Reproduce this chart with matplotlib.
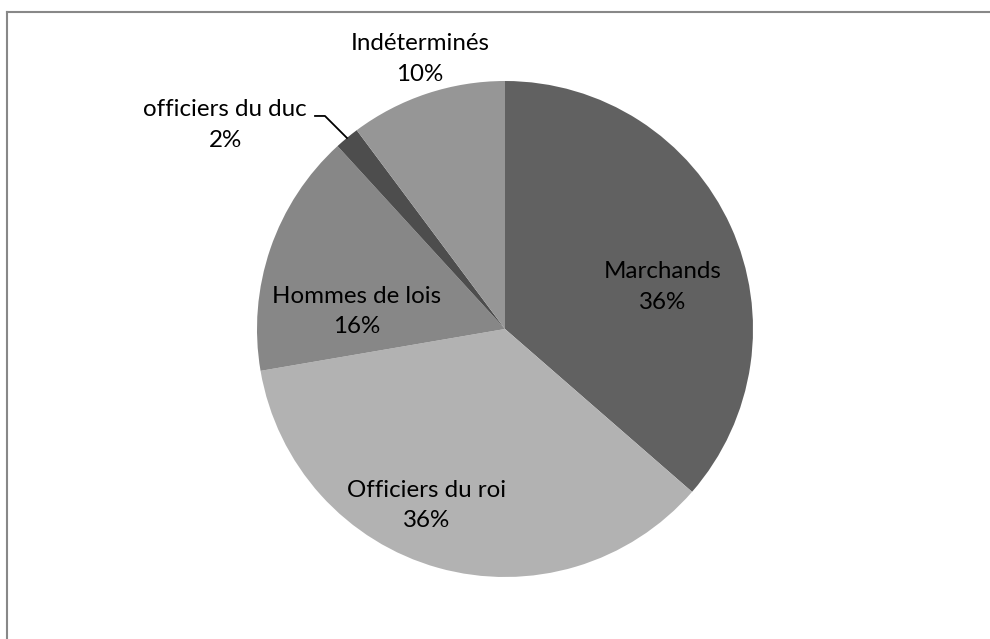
import numpy as np
import matplotlib.pyplot as plt
from matplotlib.lines import Line2D

# parts (share of total, %), clockwise from 12 o'clock
categories = ['Marchands', 'Officiers du roi', 'Hommes de lois', 'officiers du duc', 'Indéterminés']
values = [36.4, 35.9, 15.9, 1.6, 10.2]
colors = ['#616161', '#b2b2b2', '#878787', '#4d4d4d', '#969696']

# label centres, in pie units (radius = 1)
label_pos = [(0.637, 0.169), (-0.315, -0.712), (-0.597, 0.071), (-1.129, 0.823), (-0.343, 1.089)]

plt.rcParams['font.family'] = ['Lato', 'DejaVu Sans']

W, H = 990, 639
fig = plt.figure(figsize=(W / 100, H / 100), dpi=100)

# pie: centre (505, 329) px, radius 248 px
cx, cy, r = 505, 329, 248
ax = fig.add_axes([(cx - r) / W, (H - cy - r) / H, 2 * r / W, 2 * r / H])
wedges, _ = ax.pie(values, colors=colors, startangle=90, counterclock=False,
                   radius=1, wedgeprops=dict(linewidth=0))
ax.set_xlim(-1, 1)
ax.set_ylim(-1, 1)
ax.set_aspect('equal')
ax.axis('off')

for cat, val, (lx, ly) in zip(categories, values, label_pos):
    ax.text(lx, ly, f"{cat}\n{round(val):d}%", ha='center', va='center',
            fontsize=17.4, color='black', linespacing=1.55, clip_on=False)

# leader line for the small slice
w = wedges[3]
mid = np.deg2rad((w.theta1 + w.theta2) / 2)
ex, ey = np.cos(mid), np.sin(mid)
ax.plot([-0.766, -0.726, ex], [0.859, 0.859, ey], color='black', lw=1.3, clip_on=False)

# chart frame (top and left edges visible)
fig.add_artist(Line2D([7 / W, 1], [1 - 12 / H, 1 - 12 / H], color='#888888', lw=1.5,
                      transform=fig.transFigure))
fig.add_artist(Line2D([7 / W, 7 / W], [0, 1 - 12 / H], color='#888888', lw=1.5,
                      transform=fig.transFigure))

fig.savefig('out.png', dpi=100)
